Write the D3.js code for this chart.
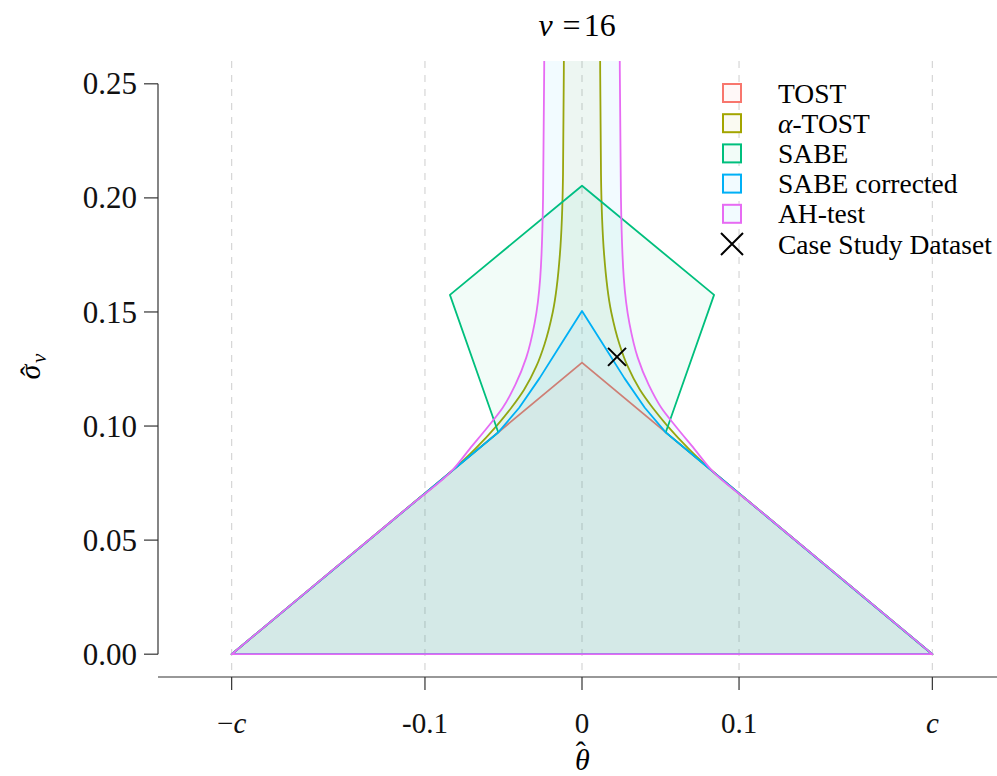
<!DOCTYPE html>
<html>
<head>
<meta charset="utf-8">
<script src="https://d3js.org/d3.v7.min.js"></script>
<style>
  body { margin: 0; background: #fff; }
  svg { display: block; font-family: 'Liberation Serif', 'DejaVu Serif', serif; }
  .tick-label { font-size: 29px; fill: #111; }
  .y-tick-label { font-size: 31px; fill: #111; }
</style>
</head>
<body>
<div id="chart"></div>
<script>
// Equivalence margin c = log(1.25)
const c = 0.2231;

// Left half of each rejection region boundary (theta, sigma), mirrored for the right half
const tostTheta = [-c, 0];
const tostSigma = [0, 0.1278];

const alphaTostTheta = [-c, -0.1533, -0.1096, -0.0834, -0.0680, -0.0545, -0.0450, -0.0368, -0.0292, -0.0238, -0.0186, -0.0141, -0.0121, -0.0115];
const alphaTostSigma = [0, 0.040, 0.065, 0.080, 0.090, 0.100, 0.108, 0.116, 0.126, 0.136, 0.150, 0.175, 0.210, 0.270];

const sabeTheta = [-c, -0.0533, -0.0841, 0];
const sabeSigma = [0, 0.0972, 0.1575, 0.2053];

const sabeCorrTheta = [-c, -0.0533, -0.0400, -0.0270, -0.0140, 0];
const sabeCorrSigma = [0, 0.0972, 0.1080, 0.1210, 0.1352, 0.1504];

const ahTheta = [-c, -0.1533, -0.1096, -0.0834, -0.0715, -0.0595, -0.0505, -0.0425, -0.0355, -0.0302, -0.0266, -0.0248, -0.0240];
const ahSigma = [0, 0.040, 0.065, 0.080, 0.090, 0.100, 0.108, 0.118, 0.130, 0.145, 0.165, 0.200, 0.270];

// Case study estimate
const caseTheta = 0.0223;
const caseSigma = 0.1303;

// Legend / series
const seriesNames = ["TOST", "α-TOST", "SABE", "SABE corrected", "AH-test"];
const lineColors = ["#F8766D", "#A3A500", "#00BF7D", "#00B0F6", "#E76BF3"];
const fillColors = ["#F8766D", "#A3A500", "#00BF7D", "#00B0F6", "#00B0F6"];

// Axis ticks
const xTickValues = [-c, -0.1, 0, 0.1, c];
const xTickLabels = ["−c", "-0.1", "0", "0.1", "c"];
const yTickValues = [0, 0.05, 0.10, 0.15, 0.20, 0.25];

const width = 997, height = 776;

const x = d3.scaleLinear().domain([-0.27, 0.27]).range([158, 1006]);
const y = d3.scaleLinear().domain([-0.01, 0.26]).range([677, 61]);

const svg = d3.select("#chart").append("svg")
    .attr("width", width)
    .attr("height", height);

svg.append("defs").append("clipPath").attr("id", "plot-clip")
  .append("rect")
    .attr("x", x(-0.27)).attr("y", y(0.26))
    .attr("width", x(0.27) - x(-0.27))
    .attr("height", y(-0.01) - y(0.26));

// dashed vertical grid
svg.append("g")
  .selectAll("line")
  .data(xTickValues)
  .join("line")
    .attr("x1", d => x(d)).attr("x2", d => x(d))
    .attr("y1", y(0.26)).attr("y2", y(-0.01))
    .attr("stroke", "#d6d6d6")
    .attr("stroke-width", 1.2)
    .attr("stroke-dasharray", "7,7");

// build full region polygon from left half
const region = (th, sg) => {
  const left = th.map((t, i) => [t, sg[i]]);
  const right = left.slice().reverse().map(p => [-p[0], p[1]]);
  return left.concat(right);
};

const regions = [
  region(tostTheta, tostSigma),
  region(alphaTostTheta, alphaTostSigma),
  region(sabeTheta, sabeSigma),
  region(sabeCorrTheta, sabeCorrSigma),
  region(ahTheta, ahSigma)
];

const curve = [d3.curveLinear, d3.curveMonotoneY, d3.curveLinear, d3.curveLinear, d3.curveMonotoneY];

const plot = svg.append("g").attr("clip-path", "url(#plot-clip)");

regions.forEach((pts, i) => {
  const n = pts.length / 2;
  const leftPts = pts.slice(0, n);
  const rightPts = pts.slice(n);
  const lineGen = d3.line().x(d => x(d[0])).y(d => y(d[1])).curve(curve[i]);
  const dLeft = lineGen(leftPts);
  const dRight = lineGen(rightPts);
  // fill: left boundary up, right boundary down, close along sigma = 0
  const dFill = dLeft + "L" + dRight.slice(1) + "Z";
  plot.append("path")
    .attr("d", dFill)
    .attr("fill", fillColors[i])
    .attr("fill-opacity", 0.05)
    .attr("stroke", "none");
  plot.append("path")
    .attr("d", dFill)
    .attr("fill", "none")
    .attr("stroke", lineColors[i])
    .attr("stroke-width", 1.8)
    .attr("stroke-linejoin", "round");
});

// case study cross
const crossSize = 9;
const cross = svg.append("g")
    .attr("transform", `translate(${x(caseTheta)},${y(caseSigma)})`);
cross.append("path")
    .attr("d", `M${-crossSize},${-crossSize}L${crossSize},${crossSize}M${-crossSize},${crossSize}L${crossSize},${-crossSize}`)
    .attr("stroke", "#000")
    .attr("stroke-width", 2);

// y axis
const yAxisX = x(-0.27);
svg.append("line")
    .attr("x1", yAxisX).attr("x2", yAxisX)
    .attr("y1", y(0.25)).attr("y2", y(0))
    .attr("stroke", "#333").attr("stroke-width", 1.2);
const yt = svg.append("g").selectAll("g").data(yTickValues).join("g")
    .attr("transform", d => `translate(0,${y(d)})`);
yt.append("line")
    .attr("x1", yAxisX - 14).attr("x2", yAxisX)
    .attr("stroke", "#333").attr("stroke-width", 1.2);
yt.append("text")
    .attr("class", "y-tick-label")
    .attr("x", yAxisX - 21)
    .attr("dy", "0.34em")
    .attr("text-anchor", "end")
    .text(d => d3.format(".2f")(d));

// x axis
const xAxisY = y(-0.01);
svg.append("line")
    .attr("x1", yAxisX).attr("x2", width)
    .attr("y1", xAxisY).attr("y2", xAxisY)
    .attr("stroke", "#333").attr("stroke-width", 1.2);
const xt = svg.append("g").selectAll("g").data(xTickValues).join("g")
    .attr("transform", d => `translate(${x(d)},${xAxisY})`);
xt.append("line")
    .attr("y1", 0).attr("y2", 13)
    .attr("stroke", "#333").attr("stroke-width", 1.2);
xt.each(function(d, i) {
  const t = d3.select(this).append("text")
      .attr("class", "tick-label")
      .attr("y", 56)
      .attr("text-anchor", "middle");
  const lab = xTickLabels[i];
  if (lab === "c") {
    t.append("tspan").attr("font-style", "italic").text("c");
  } else if (lab === "−c") {
    t.append("tspan").text("−");
    t.append("tspan").attr("font-style", "italic").text("c");
  } else {
    t.text(lab);
  }
});

// axis titles (hat set as a shifted glyph inside the same text)
const xlab = svg.append("text")
    .attr("x", x(0) - 7).attr("y", 770)
    .attr("font-size", 30);
xlab.append("tspan").attr("font-style", "italic").text("θ");
xlab.append("tspan").attr("dx", -14).attr("dy", -8).text("ˆ");

const ylab = svg.append("g").attr("transform", `translate(40,372) rotate(-90)`);
ylab.append("text")
    .attr("text-anchor", "middle")
    .attr("font-size", 30)
    .attr("font-style", "italic")
    .text("σ");
ylab.append("text")
    .attr("x", 1).attr("y", 1)
    .attr("text-anchor", "middle")
    .attr("font-size", 30)
    .text("ˆ");
ylab.append("text")
    .attr("x", 9).attr("y", 6)
    .attr("font-size", 21)
    .attr("font-style", "italic")
    .text("ν");

// title
const title = svg.append("text")
    .attr("x", x(0) - 5).attr("y", 36)
    .attr("text-anchor", "middle")
    .attr("font-size", 32);
title.append("tspan").attr("font-style", "italic").text("ν");
title.append("tspan").attr("dx", 10).text("=");
title.append("tspan").attr("dx", 3).text("16");

// legend
const legend = svg.append("g").attr("transform", "translate(722,83)");
const rowH = 30.2;
seriesNames.forEach((name, i) => {
  const g = legend.append("g").attr("transform", `translate(0,${i * rowH})`);
  g.append("rect").attr("width", 20).attr("height", 20).attr("fill", "#fff");
  g.append("rect")
      .attr("x", 1).attr("y", 1)
      .attr("width", 18).attr("height", 18)
      .attr("fill", fillColors[i]).attr("fill-opacity", 0.05)
      .attr("stroke", lineColors[i]).attr("stroke-width", 2);
  const t = g.append("text")
      .attr("x", 56).attr("y", 10).attr("dy", "0.35em")
      .attr("font-size", 27.5);
  if (name === "α-TOST") {
    t.append("tspan").attr("font-style", "italic").text("α");
    t.append("tspan").text("-TOST");
  } else {
    t.text(name);
  }
});
const lg = legend.append("g").attr("transform", `translate(10,${5 * rowH + 10})`);
lg.append("path")
    .attr("d", "M-11,-11L11,11M-11,11L11,-11")
    .attr("stroke", "#000").attr("stroke-width", 2);
lg.append("text")
    .attr("x", 46).attr("dy", "0.35em")
    .attr("font-size", 27.5)
    .text("Case Study Dataset");
</script>
</body>
</html>
